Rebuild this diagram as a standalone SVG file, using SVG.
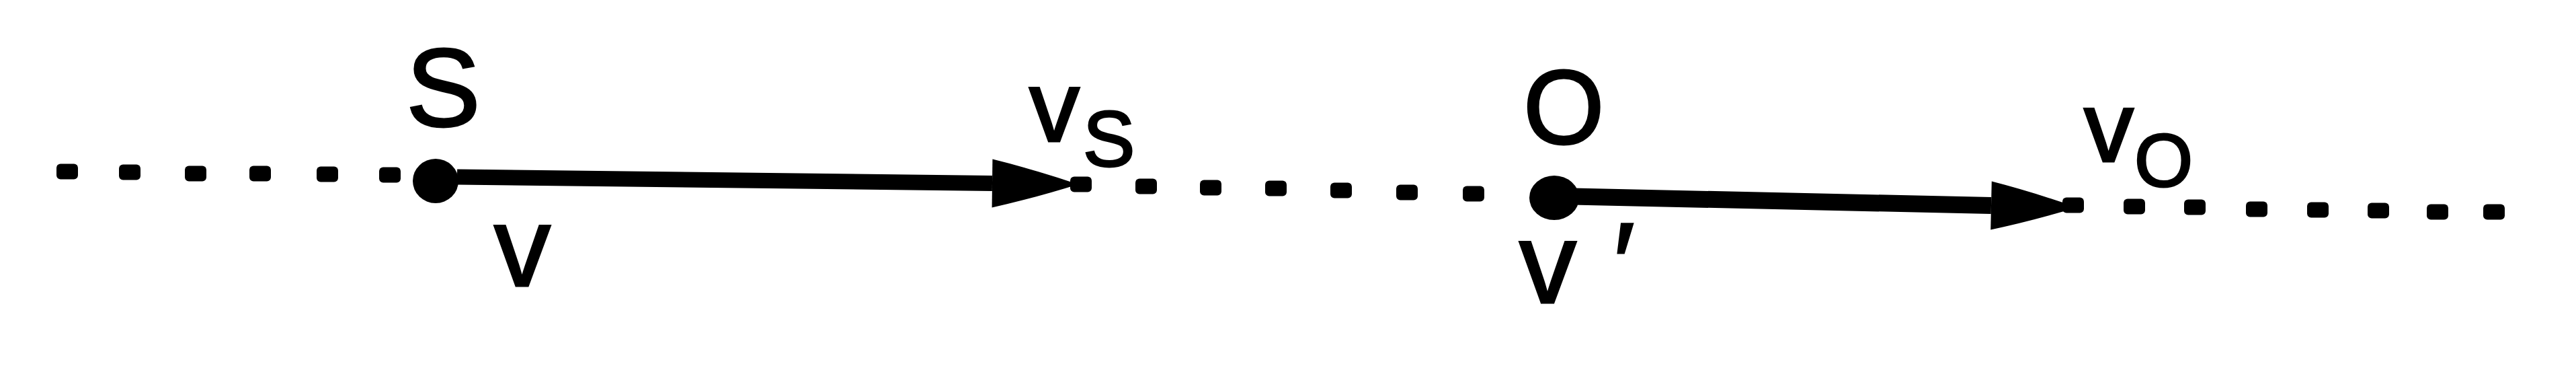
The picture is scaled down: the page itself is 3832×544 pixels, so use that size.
<svg xmlns="http://www.w3.org/2000/svg" xmlns:xlink="http://www.w3.org/1999/xlink" width="3832" height="544" viewBox="0 0 3832 544">
  <style>
    .lbl { font-family: "Liberation Sans", Arial, sans-serif; fill: #000; stroke: #000; stroke-width: 3; }
    .shaft { stroke: #000; stroke-linecap: butt; fill: none; }
    .node { fill: #000; }
  </style>
  <defs>
    <rect id="d" x="-16" y="-11.5" width="32" height="23" rx="6" fill="#000"/>
    <marker id="arrow" markerUnits="userSpaceOnUse" markerWidth="128" markerHeight="72" refX="0" refY="36" orient="auto" overflow="visible">
      <path d="M0,0 Q60,14 128,36 Q60,58 0,72 Z" fill="#000"/>
    </marker>
  </defs>
  <rect width="3832" height="544" fill="#fff"/>

  <g id="connectors">
    <g id="dots-left">
      <use href="#d" x="100" y="255"/>
      <use href="#d" x="193" y="256"/>
      <use href="#d" x="291" y="258"/>
      <use href="#d" x="387" y="258"/>
      <use href="#d" x="487" y="259"/>
      <use href="#d" x="580" y="260"/>
    </g>
    <line id="arrow-vs" class="shaft" x1="680" y1="263" x2="1476" y2="272.5" stroke-width="23" marker-end="url(#arrow)"/>
    <g id="dots-middle">
      <use href="#d" x="1608" y="274"/>
      <use href="#d" x="1705" y="277"/>
      <use href="#d" x="1801" y="279"/>
      <use href="#d" x="1898" y="280"/>
      <use href="#d" x="1995" y="283"/>
      <use href="#d" x="2093" y="286"/>
      <use href="#d" x="2192" y="288"/>
    </g>
    <line id="arrow-vo" class="shaft" x1="2340" y1="292" x2="2962" y2="305.5" stroke-width="25" marker-end="url(#arrow)"/>
    <g id="dots-right">
      <use href="#d" x="3084" y="305"/>
      <use href="#d" x="3175" y="307"/>
      <use href="#d" x="3265" y="308"/>
      <use href="#d" x="3357" y="311"/>
      <use href="#d" x="3448" y="312"/>
      <use href="#d" x="3538" y="313"/>
      <use href="#d" x="3626" y="315"/>
      <use href="#d" x="3710" y="315"/>
    </g>
    <text id="label-vs" class="lbl"><tspan x="1531" y="210" font-size="150">v</tspan><tspan x="1611" y="247" font-size="116">S</tspan></text>
    <text id="label-vo" class="lbl"><tspan x="3100" y="240" font-size="148">v</tspan><tspan x="3175" y="277" font-size="112">O</tspan></text>
  </g>

  <g id="node-S">
    <ellipse class="node" cx="648" cy="269" rx="34" ry="33"/>
    <text class="lbl" x="604" y="187" font-size="166">S</text>
    <text class="lbl" x="735" y="425" font-size="168">v</text>
  </g>

  <g id="node-O">
    <ellipse class="node" cx="2312" cy="294" rx="37" ry="33"/>
    <text class="lbl" x="2266" y="213" font-size="155">O</text>
    <text class="lbl"><tspan x="2260" y="450" font-size="170">v</tspan><tspan x="2400" y="450" font-size="170">′</tspan></text>
  </g>
</svg>
